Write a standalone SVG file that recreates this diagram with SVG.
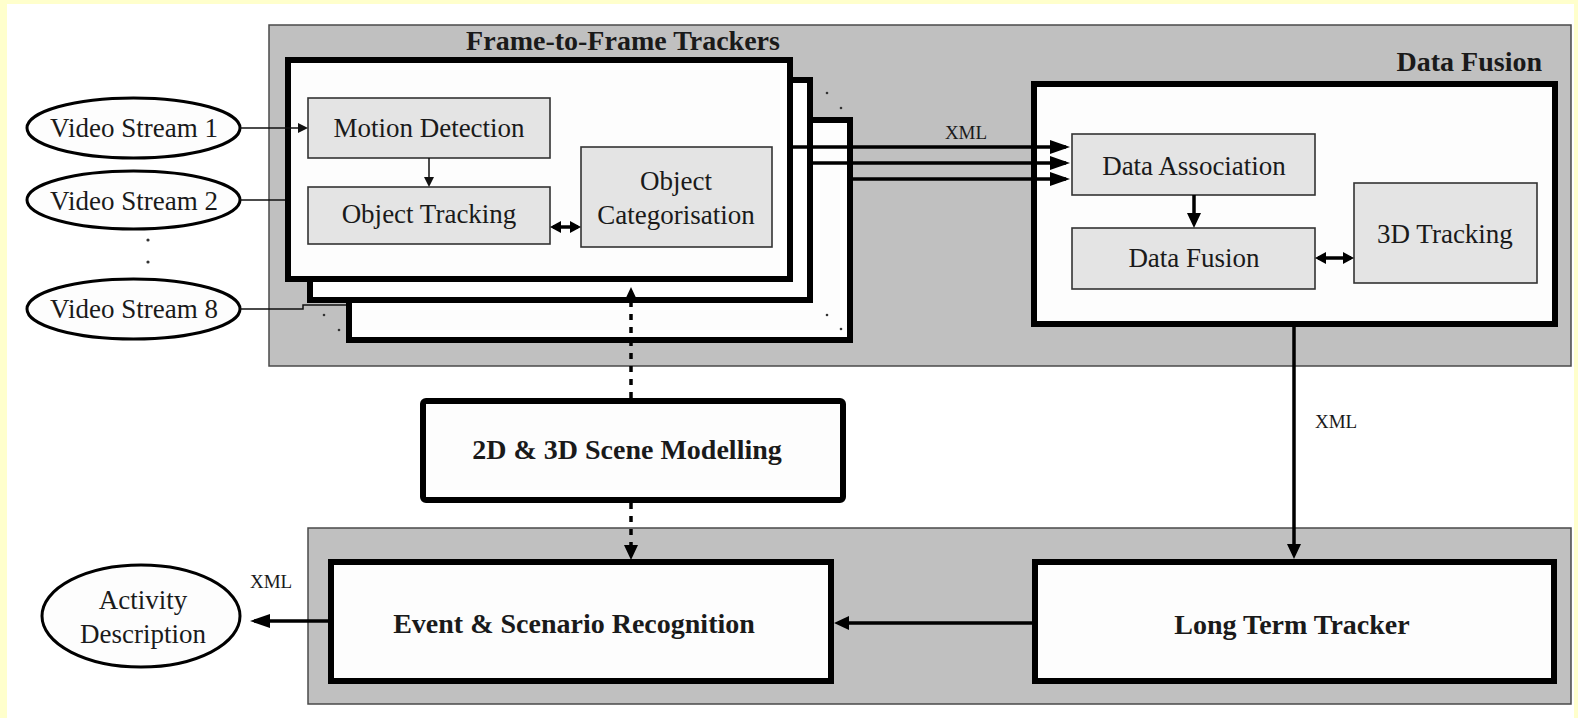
<svg xmlns="http://www.w3.org/2000/svg" width="1578" height="718" viewBox="0 0 1578 718">
<defs>
<style>
.bg{fill:#ffffff}
.yel{fill:#ffffcc}
.panel{fill:#c0c0c0;stroke:#4a4a4a;stroke-width:1.5}
.frame{fill:#fdfdfd;stroke:#000;stroke-width:6}
.box{fill:#e4e4e4;stroke:#333;stroke-width:1.6}
.ell{fill:#fdfdfd;stroke:#000;stroke-width:3}
.t{font-family:"Liberation Serif","Times New Roman",serif;font-size:27px;fill:#1a1a1a}
.tb{font-family:"Liberation Serif","Times New Roman",serif;font-size:28px;font-weight:bold;fill:#1a1a1a}
.xml{font-family:"Liberation Serif","Times New Roman",serif;font-size:19px;fill:#1a1a1a}
.thin{stroke:#111;stroke-width:1.5;fill:none}
.thick{stroke:#000;stroke-width:3.5;fill:none}
.dot{stroke:#000;stroke-width:3.5;fill:none;stroke-dasharray:6 7}
.speck{fill:#333}
</style>
<marker id="ahL" markerUnits="userSpaceOnUse" markerWidth="20" markerHeight="14" viewBox="0 0 20 14" refX="16" refY="7" orient="auto-start-reverse"><path d="M0,0 L20,7 L0,14 z" fill="#000"/></marker>
<marker id="ahM" markerUnits="userSpaceOnUse" markerWidth="15" markerHeight="14" viewBox="0 0 15 14" refX="11" refY="7" orient="auto-start-reverse"><path d="M0,0 L15,7 L0,14 z" fill="#000"/></marker>
<marker id="ahD" markerUnits="userSpaceOnUse" markerWidth="11" markerHeight="12" viewBox="0 0 11 12" refX="8" refY="6" orient="auto-start-reverse"><path d="M0,0 L11,6 L0,12 z" fill="#000"/></marker>
<marker id="ahS" markerUnits="userSpaceOnUse" markerWidth="10" markerHeight="10" viewBox="0 0 10 10" refX="8" refY="5" orient="auto-start-reverse"><path d="M0,0 L10,5 L0,10 z" fill="#111"/></marker>
</defs>

<rect class="bg" x="0" y="0" width="1578" height="718"/>
<rect class="yel" x="0" y="0" width="1578" height="4"/>
<rect class="yel" x="0" y="0" width="7" height="718"/>
<rect class="yel" x="1574" y="0" width="4" height="718"/>

<g id="panel-top">
<rect class="panel" x="269" y="25" width="1302" height="341"/>
<text class="tb" x="623" y="50" text-anchor="middle" font-size="29">Frame-to-Frame Trackers</text>
<text class="tb" x="1542" y="71" text-anchor="end">Data Fusion</text>
</g>

<g id="panel-bottom">
<rect class="panel" x="308" y="528" width="1263" height="176"/>
</g>

<g id="tracker-frames">
<rect class="frame" x="349" y="120" width="501" height="220"/>
<rect class="frame" x="310" y="80" width="500" height="220"/>
<rect class="frame" x="288" y="60" width="502" height="219"/>
<circle class="speck" cx="827" cy="93" r="1.3"/>
<circle class="speck" cx="841" cy="108" r="1.3"/>
<circle class="speck" cx="827" cy="315" r="1.3"/>
<circle class="speck" cx="841" cy="329" r="1.3"/>
<circle class="speck" cx="324" cy="315" r="1.3"/>
<circle class="speck" cx="339" cy="330" r="1.3"/>
</g>

<g id="motion-detection">
<rect class="box" x="308" y="98" width="242" height="60"/>
<text class="t" x="429" y="137" text-anchor="middle">Motion Detection</text>
</g>
<g id="object-tracking">
<rect class="box" x="308" y="187" width="242" height="57"/>
<text class="t" x="429" y="223" text-anchor="middle">Object Tracking</text>
</g>
<g id="object-categorisation">
<rect class="box" x="581" y="147" width="191" height="100"/>
<text class="t" x="676" y="190" text-anchor="middle">Object</text>
<text class="t" x="676" y="224" text-anchor="middle">Categorisation</text>
</g>

<g id="video-stream-1">
<ellipse class="ell" cx="133.5" cy="128" rx="106.5" ry="30"/>
<text class="t" x="134" y="137" text-anchor="middle">Video Stream 1</text>
</g>
<g id="video-stream-2">
<ellipse class="ell" cx="133.5" cy="200" rx="106.5" ry="29"/>
<text class="t" x="134" y="210" text-anchor="middle">Video Stream 2</text>
</g>
<g id="stream-dots">
<circle class="speck" cx="148" cy="240" r="1.6"/>
<circle class="speck" cx="148" cy="262" r="1.6"/>
</g>
<g id="video-stream-8">
<ellipse class="ell" cx="133.5" cy="309" rx="106.5" ry="30"/>
<text class="t" x="134" y="318" text-anchor="middle">Video Stream 8</text>
</g>

<g id="data-fusion-frame">
<rect class="frame" x="1034" y="84" width="521" height="240"/>
</g>
<g id="data-association">
<rect class="box" x="1072" y="134" width="243" height="61"/>
<text class="t" x="1194" y="175" text-anchor="middle">Data Association</text>
</g>
<g id="data-fusion">
<rect class="box" x="1072" y="228" width="243" height="61"/>
<text class="t" x="1194" y="267" text-anchor="middle">Data Fusion</text>
</g>
<g id="tracking-3d">
<rect class="box" x="1354" y="183" width="183" height="100"/>
<text class="t" x="1445" y="243" text-anchor="middle">3D Tracking</text>
</g>

<g id="scene-modelling">
<rect class="frame" x="423" y="401" width="420" height="99" rx="3"/>
<text class="tb" x="627" y="459" text-anchor="middle">2D &amp; 3D Scene Modelling</text>
</g>

<g id="event-recognition">
<rect class="frame" x="331" y="562" width="500" height="119"/>
<text class="tb" x="574" y="633" text-anchor="middle">Event &amp; Scenario Recognition</text>
</g>

<g id="long-term-tracker">
<rect class="frame" x="1035" y="562" width="519" height="119"/>
<text class="tb" x="1292" y="634" text-anchor="middle">Long Term Tracker</text>
</g>

<g id="activity-description">
<ellipse class="ell" cx="141" cy="616" rx="99" ry="51"/>
<text class="t" x="143" y="609" text-anchor="middle">Activity</text>
<text class="t" x="143" y="643" text-anchor="middle">Description</text>
</g>

<g id="connectors">
<line class="thin" x1="240" y1="128" x2="306" y2="128" marker-end="url(#ahS)"/>
<line class="thin" x1="240" y1="200" x2="285" y2="200"/>
<polyline class="thin" points="240,309 303,309 303,305 346,305"/>
<line class="thin" x1="429" y1="158" x2="429" y2="185" marker-end="url(#ahS)"/>
<line class="thick" x1="553" y1="227" x2="578" y2="227" marker-start="url(#ahD)" marker-end="url(#ahD)"/>
<line class="thick" x1="793" y1="147" x2="1066" y2="147" marker-end="url(#ahL)"/>
<line class="thick" x1="813" y1="163" x2="1066" y2="163" marker-end="url(#ahL)"/>
<line class="thick" x1="853" y1="179" x2="1066" y2="179" marker-end="url(#ahL)"/>
<text class="xml" x="966" y="139" text-anchor="middle">XML</text>
<line class="thick" x1="1194" y1="195" x2="1194" y2="224" marker-end="url(#ahM)"/>
<line class="thick" x1="1318" y1="258" x2="1351" y2="258" marker-start="url(#ahD)" marker-end="url(#ahD)"/>
<line class="thick" x1="1294" y1="327" x2="1294" y2="555" marker-end="url(#ahM)"/>
<text class="xml" x="1315" y="428">XML</text>
<line class="thick" x1="1032" y1="623" x2="838" y2="623" marker-end="url(#ahM)"/>
<line class="thick" x1="328" y1="621" x2="254" y2="621" marker-end="url(#ahL)"/>
<text class="xml" x="250" y="588">XML</text>
<line class="dot" x1="631" y1="398" x2="631" y2="291" marker-end="url(#ahM)"/>
<line class="dot" x1="631" y1="503" x2="631" y2="556" marker-end="url(#ahM)"/>
</g>
</svg>
